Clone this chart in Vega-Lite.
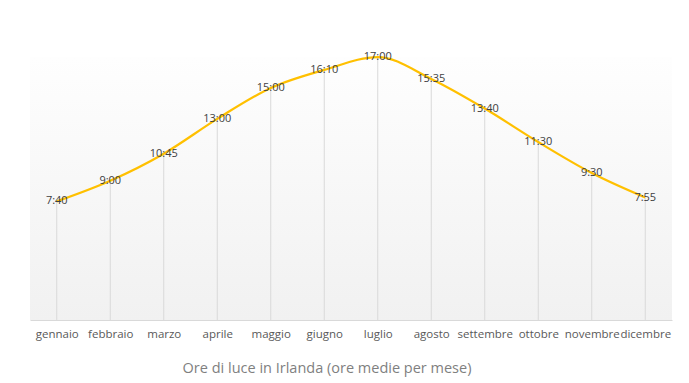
{
  "$schema": "https://vega.github.io/schema/vega-lite/v6.json",
  "autosize": "none",
  "width": 642,
  "height": 263,
  "padding": {"left": 30, "top": 57, "right": 17, "bottom": 63},
  "background": "#ffffff",
  "config": {
    "view": {"stroke": null},
    "font": "Open Sans"
  },
  "title": {
    "text": "Ore di luce in Irlanda (ore medie per mese)",
    "orient": "bottom",
    "anchor": "middle",
    "fontSize": 14.5,
    "fontWeight": "normal",
    "color": "#7f7f7f",
    "font": "Open Sans",
    "offset": 22,
    "dx": -24
  },
  "data": {
    "values": [
      {"mese": "gennaio", "ore": 7.667, "label": "7:40"},
      {"mese": "febbraio", "ore": 9.0, "label": "9:00"},
      {"mese": "marzo", "ore": 10.75, "label": "10:45"},
      {"mese": "aprile", "ore": 13.0, "label": "13:00"},
      {"mese": "maggio", "ore": 15.0, "label": "15:00"},
      {"mese": "giugno", "ore": 16.167, "label": "16:10"},
      {"mese": "luglio", "ore": 17.0, "label": "17:00"},
      {"mese": "agosto", "ore": 15.583, "label": "15:35"},
      {"mese": "settembre", "ore": 13.667, "label": "13:40"},
      {"mese": "ottobre", "ore": 11.5, "label": "11:30"},
      {"mese": "novembre", "ore": 9.5, "label": "9:30"},
      {"mese": "dicembre", "ore": 7.917, "label": "7:55"}
    ]
  },
  "layer": [
    {
      "mark": {
        "type": "rect",
        "color": {
          "gradient": "linear",
          "x1": 0, "y1": 0, "x2": 0, "y2": 1,
          "stops": [
            {"offset": 0, "color": "#fefefe"},
            {"offset": 1, "color": "#f1f1f1"}
          ]
        }
      },
      "encoding": {
        "y": {"datum": 17, "type": "quantitative", "scale": {"domain": [0, 17], "nice": false}, "axis": null},
        "y2": {"datum": 0}
      }
    },
    {
      "mark": {"type": "rule", "color": "#d9d9d9", "strokeWidth": 1},
      "encoding": {
        "x": {
          "field": "mese",
          "type": "ordinal",
          "sort": null,
          "scale": {"type": "point", "padding": 0.5},
          "axis": {
            "title": null,
            "labelAngle": 0,
            "ticks": false,
            "domainColor": "#d9d9d9",
            "labelColor": "#595959",
            "labelFontSize": 11.5,
            "labelFont": "Open Sans",
            "labelPadding": 8
          }
        },
        "y": {"field": "ore", "type": "quantitative", "scale": {"domain": [0, 17], "nice": false}, "axis": null},
        "y2": {"datum": 0}
      }
    },
    {
      "mark": {"type": "line", "color": "#ffc000", "strokeWidth": 2.25, "interpolate": "monotone"},
      "encoding": {
        "x": {"field": "mese", "type": "ordinal", "sort": null},
        "y": {"field": "ore", "type": "quantitative", "scale": {"domain": [0, 17], "nice": false}, "axis": null}
      }
    },
    {
      "mark": {"type": "text", "color": "#404040", "fontSize": 11, "font": "Open Sans", "baseline": "middle", "align": "center"},
      "encoding": {
        "x": {"field": "mese", "type": "ordinal", "sort": null},
        "y": {"field": "ore", "type": "quantitative", "scale": {"domain": [0, 17], "nice": false}, "axis": null},
        "text": {"field": "label"}
      }
    }
  ]
}
